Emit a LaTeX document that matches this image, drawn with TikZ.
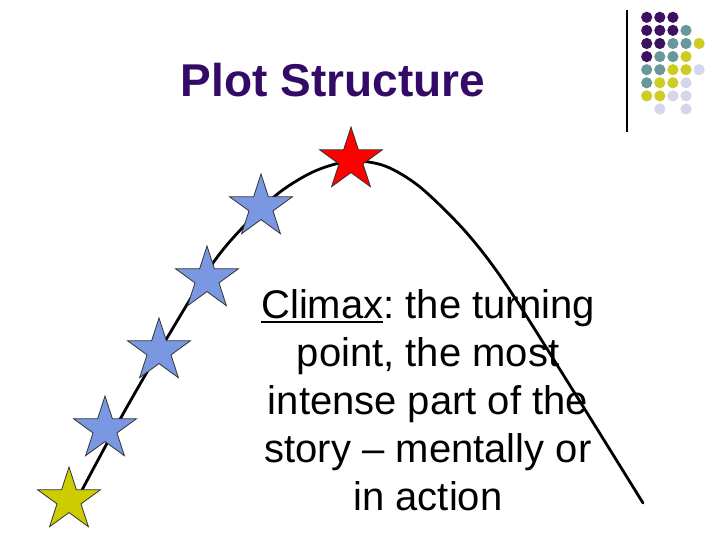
\documentclass[tikz,border=0pt]{standalone}
\usepackage{fontspec}
\setmainfont{Liberation Sans}
\usetikzlibrary{shapes.geometric}
\frenchspacing
\definecolor{titlepurple}{RGB}{51,10,102}
\definecolor{dotP}{RGB}{62,16,96}
\definecolor{dotT}{RGB}{104,152,154}
\definecolor{dotY}{RGB}{204,204,34}
\definecolor{dotL}{RGB}{214,214,234}
\definecolor{starblue}{RGB}{122,152,226}
\definecolor{staryellow}{RGB}{204,204,0}
\newcommand\myul[1]{\leavevmode\setbox0\hbox{#1}\rlap{\rule[-4.5pt]{\wd0}{2pt}}\box0}
\tikzset{
  starnode/.style={star, star points=5, star point ratio=2.618, minimum size=66pt, inner sep=0pt, draw=black!80, line width=0.8pt}
}
\begin{document}
\begin{tikzpicture}[x=1pt,y=-1pt]
\useasboundingbox (0,0) rectangle (720,540);
\fill[white] (0,0) rectangle (720,540);
% decoration
\draw[line width=1.3pt] (627,10) -- (627,132);
\foreach \row [count=\i from 0] in {{P,P,P,N,N},{P,P,P,T,N},{P,P,T,T,Y},{P,T,T,Y,N},{T,T,Y,Y,L},{T,Y,Y,L,N},{Y,Y,L,L,N},{N,L,N,L,N}}{
  \foreach \c [count=\j from 0] in \row {
    \if\c N\else
      \fill[fill=dot\c] (646.7+13.1*\j, 17.3+13.1*\i) circle (5.6);
    \fi
  }
}
% title
\node[anchor=base, inner sep=0pt, text=titlepurple, font=\fontsize{46}{50}\selectfont\bfseries] (title) at (333,97) {Plot Structure};
% text
\node[anchor=north, inner sep=0pt, align=center, font=\fontsize{40}{48}\selectfont\frenchspacing] (climax) at (428,289)
  {\myul{Climax}: the turning\\ point, the most\\ intense part of the\\ story -- mentally or\\ in action};
% curve
\draw[line width=2.8pt, line cap=round] plot[smooth, tension=0.5] coordinates {
  (82,490) (123,414) (167,338) (213,263) (245,225) (280,192) (315,171) (351,161) (385,166) (420,187) (465,231) (505,283) (574,392) (643,503)};
% stars
\node[starnode, fill=staryellow] (s1) at (69,500) {};
\node[starnode, fill=starblue] (s2) at (105,429) {};
\node[starnode, fill=starblue] (s3) at (159,351) {};
\node[starnode, fill=starblue] (s4) at (207,279) {};
\node[starnode, fill=starblue] (s5) at (261,207) {};
\node[starnode, fill=red] (s6) at (351,160) {};
\end{tikzpicture}
\end{document}
